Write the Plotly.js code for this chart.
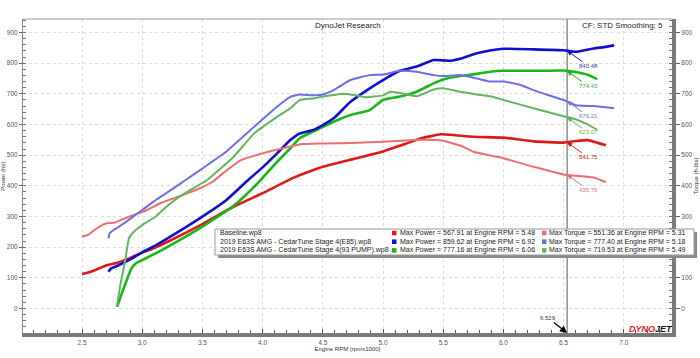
<!DOCTYPE html>
<html>
<head>
<meta charset="utf-8">
<script src="https://cdn.plot.ly/plotly-3.0.1.min.js"></script>
<style>html,body{margin:0;padding:0;background:#fff;}#chart{width:700px;height:358px;}</style>
</head>
<body>
<div id="chart"></div>
<script>
// ---- Data ----
const runNames = ["Baseline.wp8", "2019 E63S AMG - CedarTune Stage 4(E85).wp8", "2019 E63S AMG - CedarTune Stage 4(93 PUMP).wp8"];

const baseRpmP = [2.5,2.55,2.6,2.65,2.7,2.8,2.9,3.0,3.1,3.25,3.5,3.75,4.0,4.25,4.4,4.5,4.75,5.0,5.15,5.3,5.48,5.6,5.75,6.0,6.25,6.5,6.6,6.7,6.85];
const basePower = [112,117,124,132,140,150,165,182,197,225,275,330,376,425,448,462,487,512,532,553,568,565,560,557,545,541,546,549,532];
const baseRpmT = [2.5,2.55,2.6,2.65,2.7,2.77,2.82,2.93,3.04,3.15,3.26,3.37,3.48,3.59,3.7,3.82,4.04,4.23,4.33,4.5,4.75,5.0,5.15,5.3,5.5,5.65,5.75,6.0,6.25,6.5,6.6,6.75,6.85];
const baseTorque = [234,240,255,268,277,280,288,305,321,343,359,375,392,415,450,484,510,528,536,538,540,544,547,550,547,530,511,490,462,437,433,427,412];

const e85RpmP = [2.72,2.74,2.8,2.9,3.0,3.1,3.2,3.37,3.54,3.7,3.88,4.0,4.12,4.23,4.31,4.42,4.5,4.59,4.73,4.89,5.0,5.14,5.28,5.42,5.56,5.67,5.78,5.9,6.0,6.25,6.5,6.6,6.75,6.85,6.92];
const e85Power = [120,130,140,160,183,203,226,267,310,354,419,460,506,549,571,582,598,620,674,718,745,775,789,810,808,818,832,842,847,845,842,837,848,853,858];
const e85RpmT = [2.72,2.73,2.76,2.8,2.9,3.0,3.1,3.2,3.36,3.48,3.68,3.93,4.12,4.23,4.31,4.42,4.5,4.59,4.73,4.89,5.0,5.14,5.28,5.42,5.5,5.64,5.78,5.89,6.0,6.14,6.25,6.37,6.5,6.6,6.75,6.92];
const e85Torque = [229,245,255,265,292,321,350,376,419,451,506,593,658,690,698,695,698,712,745,761,763,775,772,761,758,761,750,740,740,729,712,696,680,663,660,653];

const p93RpmP = [2.79,2.85,2.91,2.95,3.0,3.12,3.24,3.5,3.77,3.96,4.12,4.23,4.31,4.42,4.5,4.59,4.73,4.89,5.0,5.14,5.28,5.42,5.5,5.64,5.78,5.89,6.0,6.25,6.5,6.6,6.7,6.78];
const p93Power = [5,70,130,148,158,181,207,267,338,409,478,522,556,577,592,609,631,647,680,691,707,734,747,758,765,772,775,775,776,771,762,748];
const p93RpmT = [2.79,2.82,2.86,2.89,2.93,3.0,3.11,3.2,3.35,3.54,3.76,3.93,4.12,4.23,4.31,4.42,4.5,4.59,4.67,4.73,4.85,5.0,5.06,5.14,5.28,5.42,5.5,5.64,5.78,5.89,6.0,6.25,6.5,6.6,6.7,6.78];
const p93Torque = [5,80,160,229,250,272,299,332,375,419,495,571,625,653,680,685,691,696,700,698,689,695,707,703,692,714,718,707,698,692,680,653,627,617,600,582];

const cursorRpm = 6.529;
const cursorLabels = ["840.48","774.43","676.21","623.07","541.75","435.79"];
const cursorValues = [840.48,774.43,676.21,623.07,541.75,435.79];

const maxPowerText = ["Max Power = 567.91 at Engine RPM = 5.48","Max Power = 859.62 at Engine RPM = 6.92","Max Power = 777.16 at Engine RPM = 6.06"];
const maxTorqueText = ["Max Torque = 551.36 at Engine RPM = 5.31","Max Torque = 777.40 at Engine RPM = 5.18","Max Torque = 719.53 at Engine RPM = 5.49"];

const xTickVals = [2.5,3.0,3.5,4.0,4.5,5.0,5.5,6.0,6.5,7.0];
const xTickText = ["2.5","3.0","3.5","4.0","4.5","5.0","5.5","6.0","6.5","7.0"];
const yTickVals = [0,100,200,300,400,500,600,700,800,900];
const y2TickVals = [0,100,300,400,500,600,700,800,900]; // 200 hidden behind the legend box

// ---- Styles ----
const powerColors = ["#dd1a1a","#1010cc","#18b818"];
const torqueColors = ["#ee6e6e","#6e6ee4","#62b462"];
const labelColors = ["#3a3ab0","#3aa83a","#6e6ee4","#62b462","#c02020","#ee6e6e"];
const FONT = "Liberation Sans, Arial, sans-serif";

// plot area in pixels
const L = 23, R = 672, T = 19, B = 333;
const px = v => (v - L) / (R - L);
const py = v => (B - v) / (B - T);

function line(x, y, color, width, axis) {
  return {x: x, y: y, type: "scatter", mode: "lines", yaxis: axis,
          line: {color: color, width: width, shape: "spline", smoothing: 0.4}, hoverinfo: "skip", showlegend: false};
}

const traces = [
  line(baseRpmT, baseTorque, torqueColors[0], 2, "y2"),
  line(e85RpmT, e85Torque, torqueColors[1], 2, "y2"),
  line(p93RpmT, p93Torque, torqueColors[2], 2, "y2"),
  line(baseRpmP, basePower, powerColors[0], 2.6, "y"),
  line(p93RpmP, p93Power, powerColors[2], 2.6, "y"),
  line(e85RpmP, e85Power, powerColors[1], 2.6, "y")
];

const annotations = [];
const shapes = [];

// cursor labels
const arrowCols = ["#1010cc","#18b818","#6e6ee4","#62b462","#dd1a1a","#ee6e6e"];
cursorLabels.forEach((t, i) => {
  annotations.push({x: cursorRpm, y: cursorValues[i], xref: "x", yref: "y", text: t,
    showarrow: true, arrowhead: 2, arrowsize: 1, arrowwidth: 1, arrowcolor: arrowCols[i], ax: 21, ay: 15,
    font: {family: FONT, size: 6, color: labelColors[i]}});
});

// cursor rpm marker
annotations.push({x: cursorRpm, y: 0, xref: "x", yref: "paper", text: "6.529",
  showarrow: true, arrowhead: 2, arrowsize: 1.2, arrowwidth: 1.2, arrowcolor: "#000", ax: -19, ay: -15,
  font: {family: FONT, size: 6, color: "#333"}});

// titles
annotations.push({x: 350/700, y: 1, xref: "paper", yref: "paper", xanchor: "center", yanchor: "top",
  text: "DynoJet Research", showarrow: false, font: {family: FONT, size: 8, color: "#222"}});
annotations.push({x: 692/700, y: 1, xref: "paper", yref: "paper", xanchor: "right", yanchor: "top",
  text: "CF: STD Smoothing: 5", showarrow: false, font: {family: FONT, size: 8, color: "#222"}});

// logo
annotations.push({x: px(651), y: py(329), xref: "paper", yref: "paper", xanchor: "center", yanchor: "middle",
  text: "<b><i><span style='color:#e0202a'>DYNO</span><span style='color:#111'>JET</span></i></b>",
  showarrow: false, font: {family: FONT, size: 9}});

// legend box
shapes.push({type: "rect", xref: "paper", yref: "paper", x0: px(218), x1: px(697), y0: py(258), y1: py(232),
  fillcolor: "#8a8a8a", line: {width: 0}, layer: "above"});
shapes.push({type: "rect", xref: "paper", yref: "paper", x0: px(215), x1: px(694), y0: py(255), y1: py(229),
  fillcolor: "#ffffff", line: {width: 1, color: "#999"}, layer: "above"});
const rowY = [233, 241.7, 250.4];
for (let i = 0; i < 3; i++) {
  annotations.push({x: px(218), y: py(rowY[i]), xref: "paper", yref: "paper", xanchor: "left", yanchor: "middle",
    text: runNames[i], showarrow: false, font: {family: FONT, size: 7, color: "#222"}});
  annotations.push({x: px(398), y: py(rowY[i]), xref: "paper", yref: "paper", xanchor: "left", yanchor: "middle",
    text: maxPowerText[i], showarrow: false, font: {family: FONT, size: 7, color: "#222"}});
  annotations.push({x: px(547), y: py(rowY[i]), xref: "paper", yref: "paper", xanchor: "left", yanchor: "middle",
    text: maxTorqueText[i], showarrow: false, font: {family: FONT, size: 7, color: "#222"}});
  shapes.push({type: "rect", xref: "paper", yref: "paper", x0: px(392), x1: px(396.5), y0: py(rowY[i] + 2.3), y1: py(rowY[i] - 2.3),
    fillcolor: powerColors[i], line: {width: 0}, layer: "above"});
  shapes.push({type: "rect", xref: "paper", yref: "paper", x0: px(542), x1: px(546.5), y0: py(rowY[i] + 2.3), y1: py(rowY[i] - 2.3),
    fillcolor: torqueColors[i], line: {width: 0}, layer: "above"});
}

// cursor vertical line and top border
shapes.push({type: "line", xref: "x", yref: "paper", x0: cursorRpm, x1: cursorRpm, y0: 0, y1: 1,
  line: {color: "#555", width: 1}, layer: "below"});
shapes.push({type: "line", xref: "paper", yref: "paper", x0: 0, x1: 1, y0: 1, y1: 1,
  line: {color: "#999", width: 1}});

const tickFont = {family: FONT, size: 6.5, color: "#555"};
const layout = {
  width: 700, height: 358,
  margin: {l: L, r: 700 - R, t: T, b: 358 - B, pad: 0},
  paper_bgcolor: "#fff", plot_bgcolor: "#fff",
  showlegend: false,
  font: {family: FONT},
  xaxis: {range: [2.01, 7.40], tickvals: xTickVals, ticktext: xTickText, tickfont: tickFont,
    showgrid: true, gridcolor: "#dcdcdc", griddash: "dot", gridwidth: 1, zeroline: false,
    showline: true, linecolor: "#7a7a7a", linewidth: 4,
    ticks: "inside", ticklen: 4, tickcolor: "#555",
    minor: {dtick: 0.1, tick0: 2.5, ticks: "inside", ticklen: 3, tickcolor: "#555", showgrid: false},
    title: {text: "Engine RPM (rpmx1000)", font: {family: FONT, size: 6, color: "#333"}, standoff: 1}},
  yaxis: {range: [-80, 944], tickvals: yTickVals, tickfont: tickFont,
    showgrid: true, gridcolor: "#dcdcdc", griddash: "dot", gridwidth: 1, zeroline: false,
    showline: true, linecolor: "#888", linewidth: 1,
    ticks: "outside", ticklen: 3, tickcolor: "#666",
    minor: {dtick: 20, tick0: 0, ticks: "inside", ticklen: 3, tickcolor: "#777", showgrid: false},
    title: {text: "Power (hp)", font: {family: FONT, size: 6, color: "#333"}, standoff: 1}},
  yaxis2: {range: [-80, 944], tickvals: y2TickVals, overlaying: "y", side: "right", tickfont: tickFont,
    showgrid: false, zeroline: false, showline: true, linecolor: "#7a7a7a", linewidth: 4,
    ticks: "outside", ticklen: 4, tickcolor: "#666",
    minor: {dtick: 20, tick0: 0, ticks: "inside", ticklen: 3, tickcolor: "#777", showgrid: false},
    title: {text: "Torque (ft-lbs)", font: {family: FONT, size: 6, color: "#333"}, standoff: 2}},
  annotations: annotations,
  shapes: shapes
};

Plotly.newPlot("chart", traces, layout, {staticPlot: true, displayModeBar: false});
</script>
</body>
</html>
